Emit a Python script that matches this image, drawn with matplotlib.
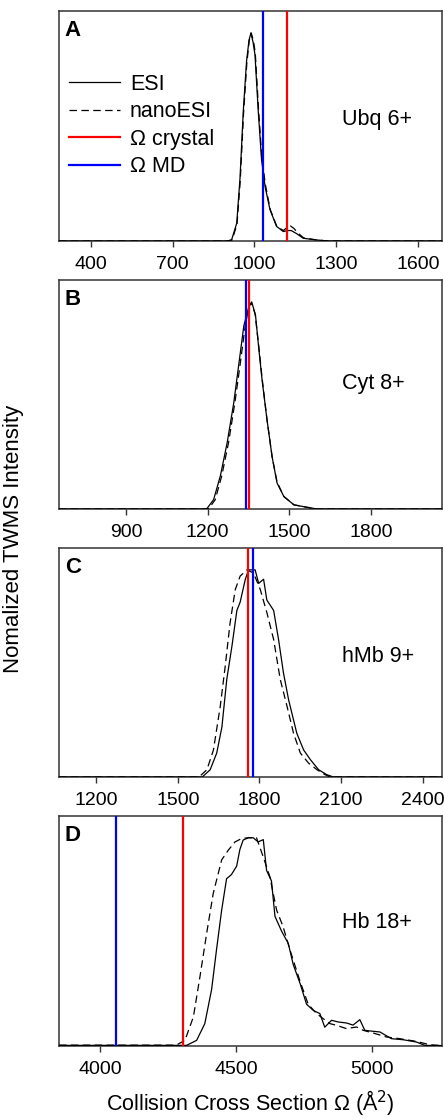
import matplotlib
matplotlib.use("Agg")
import matplotlib.pyplot as plt
import numpy as np

plt.rcParams['font.family'] = ['Liberation Sans', 'DejaVu Sans']

# ---------------- data ----------------
# Panel A: Ubq 6+
a_x_esi = [283, 900, 916, 935, 947, 959, 971, 980, 987, 995, 1002, 1014, 1026, 1039, 1057, 1081, 1106, 1120, 1135, 1155, 1179, 1228, 1270, 1688]
a_y_esi = [0, 0, 0.005, 0.085, 0.30, 0.62, 0.86, 0.96, 0.995, 0.95, 0.89, 0.62, 0.39, 0.26, 0.15, 0.07, 0.045, 0.05, 0.05, 0.035, 0.013, 0.005, 0.0, 0]
a_x_nano = [283, 900, 918, 936, 948, 960, 972, 981, 988, 996, 1003, 1015, 1027, 1040, 1058, 1082, 1106, 1120, 1132, 1145, 1158, 1180, 1228, 1270, 1688]
a_y_nano = [0, 0, 0.005, 0.08, 0.29, 0.61, 0.85, 0.96, 0.995, 0.96, 0.90, 0.63, 0.40, 0.27, 0.15, 0.07, 0.05, 0.065, 0.072, 0.06, 0.04, 0.015, 0.005, 0.0, 0]

# Panel B: Cyt 8+
b_x_esi = [654, 1190, 1198, 1222, 1247, 1272, 1296, 1315, 1333, 1351, 1362, 1376, 1388, 1400, 1418, 1437, 1455, 1480, 1517, 1566, 1603, 2061]
b_y_esi = [0, 0, 0.003, 0.045, 0.16, 0.32, 0.51, 0.70, 0.88, 0.97, 0.995, 0.93, 0.77, 0.62, 0.43, 0.25, 0.125, 0.06, 0.02, 0.008, 0.0, 0]
b_x_nano = [654, 1195, 1205, 1228, 1252, 1277, 1300, 1320, 1338, 1352, 1360, 1374, 1388, 1400, 1418, 1437, 1455, 1480, 1517, 1566, 1603, 2061]
b_y_nano = [0, 0, 0.003, 0.045, 0.16, 0.32, 0.51, 0.70, 0.88, 0.975, 0.99, 0.94, 0.78, 0.63, 0.43, 0.25, 0.13, 0.06, 0.02, 0.008, 0.0, 0]

# Panel C: hMb 9+
c_x_esi = [1064, 1590, 1619, 1643, 1662, 1680, 1699, 1717, 1729, 1748, 1760, 1784, 1797, 1815, 1827, 1852, 1870, 1888, 1907, 1937, 1962, 1987, 2017, 2047, 2072, 2470]
c_y_esi = [0, 0, 0.035, 0.115, 0.24, 0.47, 0.63, 0.80, 0.84, 0.95, 0.995, 0.995, 0.93, 0.95, 0.85, 0.80, 0.66, 0.50, 0.37, 0.21, 0.13, 0.083, 0.035, 0.011, 0.0, 0]
c_x_nano = [1064, 1578, 1607, 1631, 1656, 1674, 1692, 1711, 1729, 1754, 1778, 1803, 1827, 1852, 1876, 1901, 1925, 1950, 1980, 2011, 2041, 2060, 2470]
c_y_nano = [0, 0, 0.035, 0.13, 0.34, 0.53, 0.74, 0.90, 0.965, 0.995, 0.98, 0.90, 0.79, 0.66, 0.47, 0.34, 0.21, 0.115, 0.067, 0.035, 0.011, 0.0, 0]

# Panel D: Hb 18+
d_x_esi = [3849, 4300, 4318, 4355, 4385, 4410, 4428, 4447, 4465, 4483, 4502, 4514, 4526, 4545, 4563, 4581, 4600, 4612, 4630, 4643, 4667, 4692, 4710, 4735, 4759, 4784, 4808, 4826, 4851, 4875, 4906, 4930, 4955, 4973, 4992, 5029, 5071, 5114, 5163, 5194, 5257]
d_y_esi = [0.003, 0.003, 0.003, 0.027, 0.107, 0.27, 0.46, 0.65, 0.80, 0.82, 0.86, 0.94, 0.985, 0.996, 0.996, 0.976, 0.987, 0.84, 0.79, 0.62, 0.55, 0.49, 0.39, 0.30, 0.20, 0.17, 0.155, 0.09, 0.123, 0.115, 0.11, 0.10, 0.126, 0.075, 0.072, 0.067, 0.035, 0.03, 0.019, 0.003, 0.002]
d_x_nano = [3849, 4270, 4281, 4312, 4343, 4367, 4392, 4416, 4447, 4471, 4496, 4520, 4545, 4575, 4600, 4624, 4649, 4673, 4698, 4735, 4765, 4796, 4820, 4845, 4869, 4906, 4943, 4967, 5004, 5053, 5102, 5163, 5212, 5257]
d_y_nano = [0.004, 0.004, 0.005, 0.027, 0.139, 0.33, 0.54, 0.73, 0.89, 0.936, 0.976, 0.992, 0.996, 0.996, 0.904, 0.81, 0.65, 0.57, 0.46, 0.31, 0.20, 0.155, 0.131, 0.107, 0.099, 0.083, 0.091, 0.075, 0.062, 0.043, 0.035, 0.022, 0.006, 0.002]

omega_crystal = [1118, 1352, 1759, 4304]
omega_md = [1031, 1341, 1775, 4058]

panel_letters = ['A', 'B', 'C', 'D']
panel_names = ['Ubq 6+', 'Cyt 8+', 'hMb 9+', 'Hb 18+']
xlims = [(283, 1688), (654, 2061), (1064, 2470), (3849, 5257)]
xticks = [[400, 700, 1000, 1300, 1600], [900, 1200, 1500, 1800], [1200, 1500, 1800, 2100, 2400], [4000, 4500, 5000]]
esi_x = [a_x_esi, b_x_esi, c_x_esi, d_x_esi]
esi_y = [a_y_esi, b_y_esi, c_y_esi, d_y_esi]
nano_x = [a_x_nano, b_x_nano, c_x_nano, d_x_nano]
nano_y = [a_y_nano, b_y_nano, c_y_nano, d_y_nano]

# ---------------- figure ----------------
W, H = 444, 1118
fig = plt.figure(figsize=(W / 100, H / 100), dpi=100)
tops = [11, 280, 548, 816]
bottoms = [241, 509, 777, 1046]
left, right = 59, 442
name_y = [119, 384, 657, 923]

for i in range(4):
    ax = fig.add_axes([left / W, 1 - bottoms[i] / H, (right - left) / W, (bottoms[i] - tops[i]) / H])
    ax.plot(esi_x[i], esi_y[i], color='black', lw=0.9, label='ESI', zorder=3)
    ax.plot(nano_x[i], nano_y[i], color='black', lw=0.9, dashes=(6, 3.5), label='nanoESI', zorder=3)
    ax.axvline(omega_crystal[i], color='#ff0000', lw=1.6, label='Ω crystal', zorder=4)
    ax.axvline(omega_md[i], color='#0000ff', lw=1.6, label='Ω MD', zorder=4)
    ax.set_xlim(*xlims[i])
    ax.set_ylim(0, 1.1)
    ax.set_yticks([])
    ax.set_xticks(xticks[i])
    ax.tick_params(axis='x', direction='out', length=4, width=1, labelsize=14, pad=6.5, color='#333333')
    for s in ax.spines.values():
        s.set_linewidth(1.1)
        s.set_color('#333333')
    ax.text(0.015, 0.96, panel_letters[i], transform=ax.transAxes, fontsize=16, fontweight='bold',
            ha='left', va='top')
    yfrac = (bottoms[i] - name_y[i]) / (bottoms[i] - tops[i])
    ax.text(0.74, yfrac, panel_names[i], transform=ax.transAxes, fontsize=15.5,
            ha='left', va='center')
    if i == 0:
        ax.legend(loc='upper left', bbox_to_anchor=(0.025, 0.727), frameon=False, fontsize=15.5,
                  handlelength=2.4, handletextpad=0.45, labelspacing=0.3, borderpad=0, borderaxespad=0)

fig.text(14 / W, 1 - 539 / H, 'Nomalized TWMS Intensity', rotation=90, fontsize=16,
         ha='center', va='center')
fig.text(250 / W, 1 - 1103 / H, 'Collision Cross Section Ω (Å$^2$)', fontsize=15.5,
         ha='center', va='center')

fig.savefig('out.png', dpi=100)
